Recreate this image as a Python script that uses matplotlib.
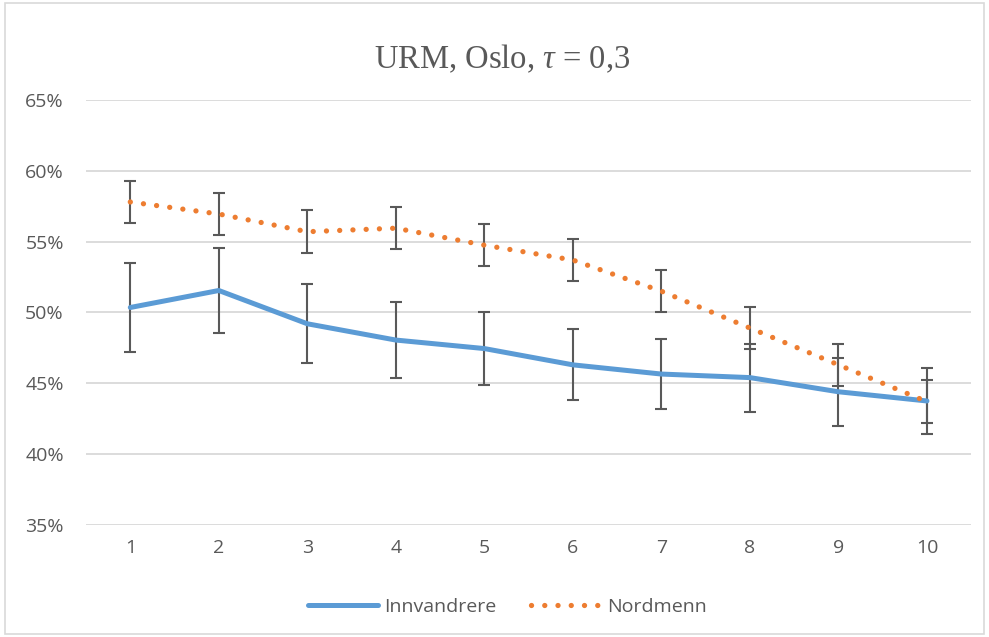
"""URM, Oslo, tau = 0,3 - line chart with error bars
"""
import matplotlib
matplotlib.use('Agg')
import matplotlib.pyplot as plt
from matplotlib.patches import Rectangle
from matplotlib.ticker import FuncFormatter

from typing import List

# Data (percent)
groups: List[int] = [1, 2, 3, 4, 5, 6, 7, 8, 9, 10]
innvandrere: List[float] = [50.35, 51.55, 49.2, 48.05, 47.45, 46.3, 45.65, 45.4, 44.4, 43.75]
innvandrere_err: List[float] = [3.15, 3.0, 2.8, 2.7, 2.6, 2.5, 2.45, 2.4, 2.4, 2.3]
nordmenn: List[float] = [57.8, 56.95, 55.7, 55.95, 54.75, 53.7, 51.5, 48.9, 46.3, 43.7]
nordmenn_err: List[float] = [1.5, 1.5, 1.5, 1.5, 1.5, 1.5, 1.5, 1.5, 1.5, 1.5]
y_ticks: List[int] = [35, 40, 45, 50, 55, 60, 65]

plt.rcParams['font.family'] = ['Open Sans', 'DejaVu Sans']
plt.rcParams['mathtext.fontset'] = 'custom'
plt.rcParams['mathtext.it'] = 'Liberation Serif:italic'
plt.rcParams['mathtext.rm'] = 'Liberation Serif'

text_gray = '#595959'
grid_gray = '#d9d9d9'
blue = '#5b9bd5'
orange = '#ed7d31'

fig = plt.figure(figsize=(9.89, 6.37), dpi=100)
ax = fig.add_axes([0.087, 0.176, 0.895, 0.667])

# Error bars (drawn under the lines)
for values, errs in [(innvandrere, innvandrere_err), (nordmenn, nordmenn_err)]:
    ax.errorbar(
        groups,
        values,
        yerr=errs,
        fmt='none',
        ecolor=text_gray,
        elinewidth=1.5,
        capsize=4.3,
        capthick=1.5,
        zorder=2,
    )

ax.plot(
    groups,
    innvandrere,
    color=blue,
    linewidth=3.6,
    solid_capstyle='round',
    solid_joinstyle='round',
    label='Innvandrere',
    zorder=3,
)
ax.plot(
    groups,
    nordmenn,
    color=orange,
    linewidth=3.8,
    linestyle=(0, (0.01, 2.5)),
    dash_capstyle='round',
    label='Nordmenn',
    zorder=4,
)

ax.set_xlim(0.5, 10.5)
ax.set_ylim(35, 65)
ax.set_xticks(groups)
ax.set_yticks(y_ticks)
ax.yaxis.set_major_formatter(FuncFormatter(lambda v, _: f"{int(v)}%"))

for side in ['top', 'right', 'left', 'bottom']:
    ax.spines[side].set_visible(False)
ax.grid(axis='y', color=grid_gray, linewidth=1.3, zorder=0)
ax.set_axisbelow(True)
ax.tick_params(axis='both', length=0, labelsize=14, labelcolor=text_gray)
ax.tick_params(axis='y', pad=16)
ax.tick_params(axis='x', pad=10)

fig.text(
    0.508, 0.907,
    'URM, Oslo, $\\tau$ = 0,3',
    ha='center', va='center',
    fontsize=23.5, color=text_gray,
    family='Liberation Serif',
)

fig.legend(
    loc='center',
    bbox_to_anchor=(0.513, 0.047),
    ncol=2,
    frameon=False,
    fontsize=14,
    labelcolor=text_gray,
    handlelength=3.6,
    handletextpad=0.3,
    columnspacing=1.8,
)

# Light border round the chart area
fig.patches.append(
    Rectangle(
        (0.005, 0.004), 0.99, 0.992,
        transform=fig.transFigure,
        fill=False,
        edgecolor=grid_gray,
        linewidth=1.2,
    )
)

fig.savefig('out.png', dpi=100)
